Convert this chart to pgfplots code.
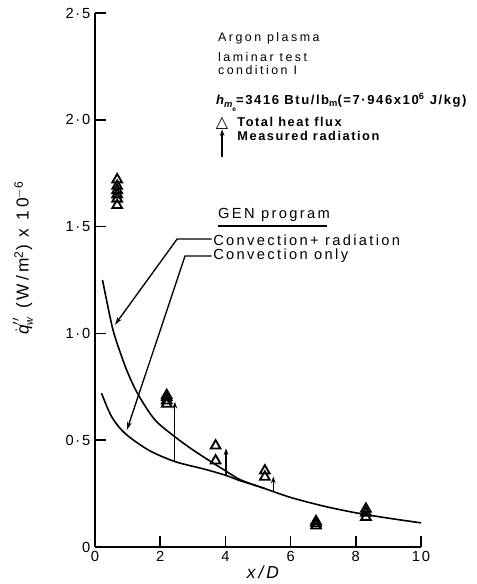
\documentclass[border=0pt]{standalone}
\usepackage{fontspec}
\setmainfont{Liberation Sans}
\newfontfamily\tickf[LetterSpace=12]{Liberation Sans}
\newfontfamily\labf[LetterSpace=18]{Liberation Sans}
\newfontfamily\annf[LetterSpace=20]{Liberation Sans}
\newfontfamily\genf[LetterSpace=16]{Liberation Sans}
\newfontfamily\legf[LetterSpace=12]{Liberation Sans}
\newfontfamily\symf{DejaVu Sans}
\usepackage{pgfplots}
\pgfplotsset{compat=1.18}
\usetikzlibrary{arrows.meta}

\pgfplotstableread{
x y
0.68 1.72
0.68 1.69
0.68 1.67
0.68 1.65
0.68 1.63
0.68 1.60
2.20 0.71
2.20 0.70
2.20 0.685
2.20 0.67
3.70 0.474
3.70 0.404
5.21 0.357
5.21 0.328
6.78 0.12
6.78 0.11
6.78 0.10
8.31 0.178
8.31 0.16
8.31 0.14
}\totalflux

\pgfplotstableread{
x y v
2.45 0.400 0.280
4.02 0.336 0.126
5.47 0.262 0.068
}\radiation

\pgfplotstableread{
x y
0.23 1.25
0.46 1.078
0.61 0.985
0.97 0.829
1.33 0.712
1.84 0.595
2.45 0.516
3.0 0.455
3.5 0.405
4.0 0.357
4.4 0.319
4.8 0.295
5.2 0.274
}\convrad

\pgfplotstableread{
x y
0.20 0.72
0.51 0.61
0.92 0.532
1.64 0.454
2.45 0.400
3.37 0.364
4.0 0.336
4.4 0.313
4.8 0.294
5.2 0.274
6.0 0.232
7.0 0.192
8.0 0.160
9.0 0.135
10.0 0.113
}\convonly

\begin{document}
\begin{tikzpicture}[x=1pt,y=1pt]
\path[use as bounding box] (-71.25,-27.75) rectangle (286.5,410.25);
\begin{axis}[
  at={(0,0)}, anchor=south west,
  scale only axis, width=244.5pt, height=400.5pt,
  xmin=0, xmax=10, ymin=0, ymax=2.5,
  axis x line=bottom, axis y line=left,
  axis line style={-, line width=1.2pt},
  tick align=inside, major tick length=8pt,
  tick style={line width=1.1pt, black},
  xtick={0,2,4,6,8,10}, xticklabels={0,2,4,6,8,10},
  ytick={0,0.5,1,1.5,2,2.5}, yticklabels={0,0·5,1·0,1·5,2·0,2·5},
  ticklabel style={font=\tickf\fontsize{11}{12}\selectfont},
  clip=false,
]
\addplot[smooth, line width=1.2pt, black] table {\convrad};
\addplot[smooth, line width=1.2pt, black] table {\convonly};
\addplot[only marks, mark=triangle, mark size=4.2pt, mark options={line width=1.4pt, solid, black}] table {\totalflux};
\addplot[quiver={u=0, v=\thisrow{v}}, -{Stealth[length=5pt, width=3.5pt]}, line width=0.9pt, black] table {\radiation};

% axis labels
\node[rotate=90, anchor=center, inner sep=0pt, font=\labf\fontsize{13}{15}\selectfont] at (axis cs:-2.21,1.353) {${\dot{\mbox{\itshape q}}}''_{\mbox{\footnotesize\itshape w}}$ (W/m\textsuperscript{2}) x 10\textsuperscript{$-$6}};
\node[anchor=center, inner sep=0pt, font=\labf\fontsize{13}{14}\selectfont\itshape] at (axis cs:5.15,-0.12) {x/D};

% annotations
\node[anchor=west, inner sep=0pt, font=\annf\fontsize{9.3}{10}\selectfont] at (axis cs:3.77,2.383) {Argon plasma};
\node[anchor=west, inner sep=0pt, font=\annf\fontsize{9.3}{10}\selectfont] at (axis cs:3.77,2.294) {laminar test};
\node[anchor=west, inner sep=0pt, font=\annf\fontsize{9.3}{10}\selectfont] at (axis cs:3.77,2.233) {condition I};
\node[anchor=west, inner sep=0pt, font=\legf\bfseries\fontsize{9.8}{10}\selectfont] at (axis cs:3.71,2.083) {{\itshape h}\raisebox{-0.5ex}{\scriptsize\itshape m}\raisebox{-1.0ex}{\tiny e}=3416 Btu/lb\raisebox{-0.4ex}{\scriptsize m}(=7·946x10\textsuperscript{6} J/kg)};
\node[anchor=center, inner sep=0pt, font=\symf\bfseries\fontsize{12}{12}\selectfont] at (axis cs:3.9,1.982) {△};
\node[anchor=west, inner sep=0pt, font=\legf\bfseries\fontsize{9.6}{10}\selectfont] at (axis cs:4.36,1.99) {Total heat flux};
\node[anchor=west, inner sep=0pt, font=\legf\bfseries\fontsize{9.6}{10}\selectfont] at (axis cs:4.36,1.924) {Measured radiation};
\draw[line width=1pt, -{Stealth[length=5pt, width=3.5pt]}] (axis cs:3.9,1.826) -- (axis cs:3.9,1.955);

\node[anchor=west, inner sep=0pt, font=\genf\fontsize{11}{12}\selectfont] at (axis cs:3.77,1.554) {GEN program};
\draw[line width=1.1pt] (axis cs:3.77,1.503) -- (axis cs:7.12,1.503);
\node[anchor=west, inner sep=0pt, font=\genf\fontsize{11}{12}\selectfont] at (axis cs:3.62,1.437) {Convection+ radiation};
\node[anchor=west, inner sep=0pt, font=\genf\fontsize{11}{12}\selectfont] at (axis cs:3.62,1.362) {Convection only};
\draw[line width=1pt, -{Stealth[length=6pt, width=3.5pt]}] (axis cs:3.58,1.442) -- (axis cs:2.52,1.442) -- (axis cs:0.61,1.04);
\draw[line width=1pt, -{Stealth[length=6pt, width=3.5pt]}] (axis cs:3.58,1.362) -- (axis cs:2.76,1.362) -- (axis cs:0.98,0.548);
\end{axis}
\end{tikzpicture}
\end{document}
